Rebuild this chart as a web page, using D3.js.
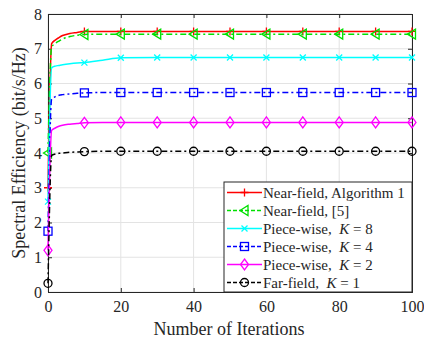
<!DOCTYPE html>
<html>
<head>
<meta charset="utf-8">
<script src="https://cdn.jsdelivr.net/npm/d3@7"></script>
<style>
  body { margin: 0; background: #fff; }
  svg text { font-family: 'Liberation Serif', 'Times New Roman', Times, 'DejaVu Serif', serif !important; fill: #262626; }
</style>
</head>
<body>
<svg id="canvas" width="424" height="339"></svg>
<script>
// data
let iterations = [0, 1, 2, 3, 4, 6, 8, 10, 15, 20, 30, 40, 50, 60, 70, 80, 90, 100];
let markerIters = [0, 10, 20, 30, 40, 50, 60, 70, 80, 90, 100];

let nearAlg1  = [3.0, 7.15, 7.25, 7.32, 7.38, 7.44, 7.47, 7.5, 7.5, 7.5, 7.5, 7.5, 7.5, 7.5, 7.5, 7.5, 7.5, 7.5];
let nearRef5  = [4.0, 7.05, 7.15, 7.22, 7.28, 7.35, 7.39, 7.41, 7.42, 7.42, 7.42, 7.42, 7.42, 7.42, 7.42, 7.42, 7.42, 7.42];
let pieceK8   = [2.6, 6.45, 6.5, 6.52, 6.54, 6.57, 6.59, 6.6, 6.67, 6.74, 6.75, 6.75, 6.75, 6.75, 6.75, 6.75, 6.75, 6.75];
let pieceK4   = [1.75, 5.55, 5.62, 5.66, 5.68, 5.7, 5.72, 5.73, 5.74, 5.74, 5.74, 5.74, 5.74, 5.74, 5.74, 5.74, 5.74, 5.74];
let pieceK2   = [1.2, 4.65, 4.72, 4.77, 4.8, 4.83, 4.85, 4.87, 4.88, 4.88, 4.88, 4.88, 4.88, 4.88, 4.88, 4.88, 4.88, 4.88];
let farK1     = [0.25, 3.93, 3.97, 3.99, 4.0, 4.02, 4.03, 4.04, 4.05, 4.05, 4.05, 4.05, 4.05, 4.05, 4.05, 4.05, 4.05, 4.05];

let xTicks = [0, 20, 40, 60, 80, 100];
let yTicks = [0, 1, 2, 3, 4, 5, 6, 7, 8];

let series = [
  { name: 'Near-field, Algorithm 1', k: null, values: nearAlg1, color: '#ff0000', dash: null, marker: 'plus' },
  { name: 'Near-field, [5]', k: null, values: nearRef5, color: '#00e000', dash: '6,3,2,3', marker: 'triangle' },
  { name: 'Piece-wise,  ', k: '8', values: pieceK8, color: '#00ffff', dash: null, marker: 'x' },
  { name: 'Piece-wise,  ', k: '4', values: pieceK4, color: '#0000ff', dash: '6,3,2,3', marker: 'square' },
  { name: 'Piece-wise,  ', k: '2', values: pieceK2, color: '#ff00ff', dash: null, marker: 'diamond' },
  { name: 'Far-field,  ', k: '1', values: farK1, color: '#000000', dash: '6,3,2,3', marker: 'circle' }
];

let svg = d3.select('#canvas');
let pLeft = 48, pRight = 412, pTop = 14, pBottom = 292;

let x = d3.scaleLinear().domain([0, 100]).range([pLeft, pRight]);
let y = d3.scaleLinear().domain([0, 8]).range([pBottom, pTop]);

// grid
svg.append('g').selectAll('line').data(xTicks).enter().append('line')
  .attr('x1', d => x(d)).attr('x2', d => x(d)).attr('y1', pTop).attr('y2', pBottom)
  .attr('stroke', '#e3e3e3').attr('stroke-width', 1);
svg.append('g').selectAll('line').data(yTicks).enter().append('line')
  .attr('y1', d => y(d)).attr('y2', d => y(d)).attr('x1', pLeft).attr('x2', pRight)
  .attr('stroke', '#e3e3e3').attr('stroke-width', 1);

// axes
let xAxis = svg.append('g').attr('transform', 'translate(0,' + pBottom + ')')
  .call(d3.axisBottom(x).tickValues(xTicks).tickSize(-4).tickPadding(9));
let xAxisTop = svg.append('g').attr('transform', 'translate(0,' + pTop + ')')
  .call(d3.axisTop(x).tickValues(xTicks).tickSize(-4).tickFormat(''));
let yAxis = svg.append('g').attr('transform', 'translate(' + pLeft + ',0)')
  .call(d3.axisLeft(y).tickValues(yTicks).tickSize(-4).tickPadding(6));
let yAxisRight = svg.append('g').attr('transform', 'translate(' + pRight + ',0)')
  .call(d3.axisRight(y).tickValues(yTicks).tickSize(-4).tickFormat(''));

[xAxis, xAxisTop, yAxis, yAxisRight].forEach(a => {
  a.attr('font-family', null);
  a.select('.domain').attr('stroke', '#262626');
  a.selectAll('.tick line').attr('stroke', '#262626');
  a.selectAll('text').style('font-size', '16px').attr('fill', '#262626');
});

// curves
let line = d3.line()
  .x((d, i) => x(iterations[i]))
  .y(d => y(d))
  .curve(d3.curveMonotoneX);

let drawMarker = (g, type, cx, cy, color) => {
  let s = 4;
  if (type === 'plus') {
    g.append('path').attr('d', `M${cx - s},${cy}H${cx + s}M${cx},${cy - s}V${cy + s}`)
      .attr('stroke', color).attr('stroke-width', 1.3).attr('fill', 'none');
  } else if (type === 'x') {
    g.append('path').attr('d', `M${cx - 3},${cy - 3}L${cx + 3},${cy + 3}M${cx - 3},${cy + 3}L${cx + 3},${cy - 3}`)
      .attr('stroke', color).attr('stroke-width', 1.3).attr('fill', 'none');
  } else if (type === 'triangle') {
    g.append('path').attr('d', `M${cx - 4.5},${cy}L${cx + 3.5},${cy - 5}L${cx + 3.5},${cy + 5}Z`)
      .attr('stroke', color).attr('stroke-width', 1.3).attr('fill', 'none');
  } else if (type === 'square') {
    g.append('rect').attr('x', cx - 4).attr('y', cy - 4).attr('width', 8).attr('height', 8)
      .attr('stroke', color).attr('stroke-width', 1.3).attr('fill', 'none');
  } else if (type === 'diamond') {
    g.append('path').attr('d', `M${cx},${cy - 5.5}L${cx + 4},${cy}L${cx},${cy + 5.5}L${cx - 4},${cy}Z`)
      .attr('stroke', color).attr('stroke-width', 1.3).attr('fill', 'none');
  } else if (type === 'circle') {
    g.append('circle').attr('cx', cx).attr('cy', cy).attr('r', 4)
      .attr('stroke', color).attr('stroke-width', 1.3).attr('fill', 'none');
  }
};

series.forEach(s => {
  let g = svg.append('g');
  g.append('path').datum(s.values)
    .attr('d', line)
    .attr('fill', 'none')
    .attr('stroke', s.color)
    .attr('stroke-width', 1.5)
    .attr('stroke-dasharray', s.dash);
  markerIters.forEach(it => {
    let idx = iterations.indexOf(it);
    drawMarker(g, s.marker, x(it), y(s.values[idx]), s.color);
  });
});

// labels
svg.append('text')
  .attr('x', 229).attr('y', 335)
  .attr('text-anchor', 'middle').style('font-size', '18px')
  .text('Number of Iterations');
svg.append('text')
  .attr('transform', 'translate(25,' + ((pTop + pBottom) / 2) + ') rotate(-90)')
  .attr('text-anchor', 'middle').style('font-size', '18px')
  .text('Spectral Efficiency (bit/s/Hz)');

// legend
let legend = svg.append('g');
let lx = 224, ly = 182, lw = 188, lh = 110;
legend.append('rect').attr('x', lx).attr('y', ly).attr('width', lw).attr('height', lh)
  .attr('fill', '#fff').attr('stroke', '#262626').attr('stroke-width', 1);

series.forEach((s, i) => {
  let cy = ly + 10.5 + i * 18;
  legend.append('line').attr('x1', lx + 3).attr('x2', lx + 38).attr('y1', cy).attr('y2', cy)
    .attr('stroke', s.color).attr('stroke-width', 1.5).attr('stroke-dasharray', s.dash ? '4,2' : null);
  drawMarker(legend, s.marker, lx + 20.5, cy, s.color);
  let t = legend.append('text').attr('x', lx + 39).attr('y', cy + 5).style('font-size', '15px');
  t.append('tspan').text(s.name).style('white-space', 'pre');
  if (s.k) {
    t.append('tspan').text('K').style('font-style', 'italic');
    t.append('tspan').text(' = ' + s.k);
  }
});
</script>
</body>
</html>
